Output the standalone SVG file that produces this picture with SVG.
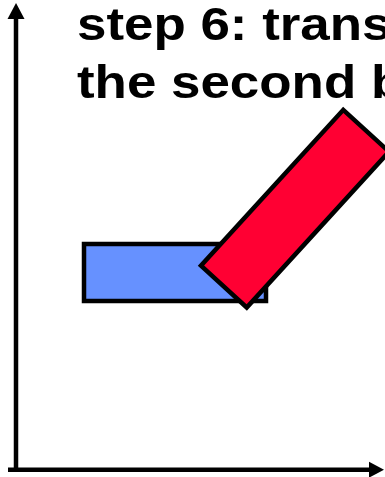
<svg xmlns="http://www.w3.org/2000/svg" width="385" height="477" viewBox="0 0 385 477">
  <style>
    .title { font-family: "Liberation Sans", Arial, sans-serif; font-weight: bold; font-size: 46px; fill: #000; }
    .box { stroke: #000; stroke-width: 4.5; stroke-linejoin: miter; }
    .axis { stroke: #000; stroke-width: 4.5; fill: none; }
  </style>
  <rect width="385" height="477" fill="#fff"/>
  <g id="title">
    <text class="title" transform="translate(77,39.5) scale(1.15,1)">step 6: trans</text>
    <text class="title" transform="translate(77,97.5) scale(1.15,1)">the second b</text>
  </g>
  <g id="connectors">
    <line class="axis" x1="16" y1="18" x2="16" y2="472"/>
    <polygon points="16,3 24.5,19 7.5,19" fill="#000"/>
    <line class="axis" x1="8" y1="469.7" x2="370" y2="469.7"/>
    <polygon points="384,469.7 369,461.7 369,477.7" fill="#000"/>
  </g>
  <g id="blue-box">
    <rect class="box" x="84" y="244" width="182" height="57" fill="#6691FF"/>
  </g>
  <g id="red-box">
    <rect class="box" x="-105.5" y="-31" width="211" height="62" fill="#FF0033" transform="translate(295,208.7) rotate(-47.6)"/>
  </g>
</svg>
